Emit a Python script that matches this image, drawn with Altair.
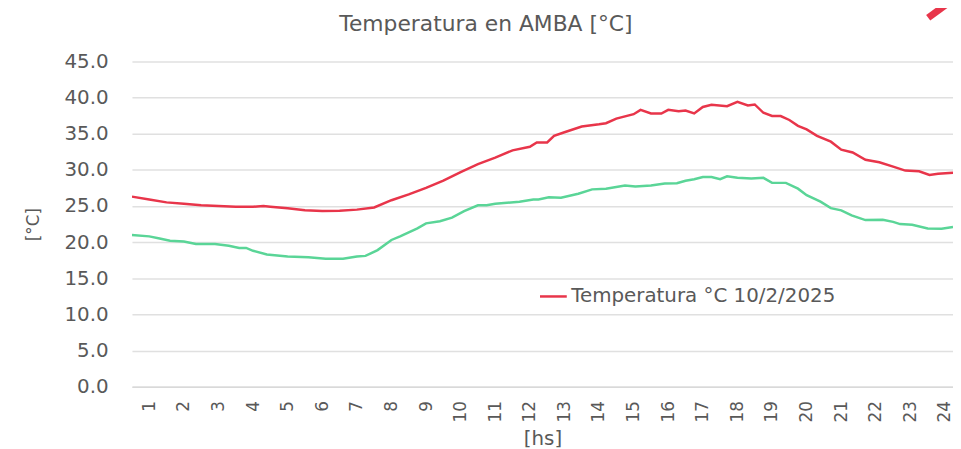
import altair as alt
import pandas as pd

title_text = "Temperatura en AMBA [°C]"
x_title = "[hs]"
y_title = "[°C]"
red_name = "Temperatura °C 10/2/2025"
green_name = "Temperatura °C 9/2/2025"
hour_ticks = list(range(1, 25))
y_ticks = [0, 5, 10, 15, 20, 25, 30, 35, 40, 45]

red_hours = [0.5, 1.0, 1.5, 2.0, 2.5, 3.0, 3.5, 4.0, 4.3, 4.5, 5.0, 5.5, 6.0, 6.5, 7.0, 7.5,
             8.0, 8.5, 9.0, 9.5, 10.0, 10.5, 11.0, 11.5, 12.0, 12.2, 12.5, 12.7, 13.0, 13.5,
             14.0, 14.2, 14.5, 15.0, 15.2, 15.5, 15.8, 16.0, 16.3, 16.5, 16.75, 17.0, 17.25,
             17.7, 18.0, 18.3, 18.5, 18.75, 19.0, 19.25, 19.5, 19.75, 20.0, 20.3, 20.7, 21.0,
             21.33, 21.7, 22.1, 22.5, 22.85, 23.25, 23.55, 23.8, 24.23]
red_temps = [26.3, 25.9, 25.5, 25.3, 25.1, 25.0, 24.9, 24.9, 25.0, 24.9, 24.7, 24.4, 24.3, 24.35,
             24.5, 24.8, 25.8, 26.6, 27.5, 28.5, 29.7, 30.8, 31.7, 32.7, 33.2, 33.8, 33.8, 34.7,
             35.2, 36.0, 36.3, 36.45, 37.1, 37.7, 38.3, 37.8, 37.8, 38.3, 38.1, 38.2, 37.8, 38.7,
             39.0, 38.8, 39.4, 38.9, 39.05, 37.9, 37.45, 37.45, 36.9, 36.1, 35.6, 34.7, 33.9,
             32.8, 32.4, 31.4, 31.05, 30.45, 29.9, 29.8, 29.3, 29.45, 29.6]

green_hours = [0.5, 1.0, 1.3, 1.6, 2.0, 2.35, 2.9, 3.3, 3.6, 3.8, 4.0, 4.4, 5.0, 5.6, 6.1, 6.6,
               7.0, 7.25, 7.6, 8.0, 8.25, 8.75, 9.0, 9.4, 9.75, 10.1, 10.5, 10.75, 11.0, 11.7,
               12.1, 12.25, 12.55, 12.9, 13.4, 13.8, 14.2, 14.75, 15.05, 15.5, 15.9, 16.25,
               16.5, 16.75, 17.0, 17.25, 17.5, 17.7, 18.0, 18.4, 18.75, 19.0, 19.4, 19.75, 20.0,
               20.4, 20.7, 21.0, 21.3, 21.7, 22.2, 22.5, 22.7, 23.05, 23.5, 23.9, 24.23]
green_temps = [21.0, 20.8, 20.5, 20.2, 20.1, 19.75, 19.75, 19.5, 19.2, 19.2, 18.8, 18.3, 18.0,
               17.9, 17.7, 17.7, 18.0, 18.1, 18.9, 20.3, 20.8, 21.9, 22.6, 22.9, 23.4, 24.3,
               25.1, 25.1, 25.3, 25.6, 25.9, 25.9, 26.2, 26.15, 26.7, 27.3, 27.4, 27.85, 27.7,
               27.85, 28.1, 28.15, 28.5, 28.7, 29.0, 29.0, 28.7, 29.1, 28.9, 28.8, 28.9, 28.2,
               28.2, 27.4, 26.5, 25.6, 24.7, 24.4, 23.7, 23.05, 23.1, 22.8, 22.5, 22.4, 21.9,
               21.85, 22.1]

df = pd.DataFrame({
    "hora": red_hours + green_hours,
    "temp": red_temps + green_temps,
    "serie": [red_name] * len(red_hours) + [green_name] * len(green_hours),
})

FONT = "DejaVu Sans"
GRAY = "#595959"
RED = "#E8354A"
GREEN = "#5AD597"
W, H = 828, 328

lines = alt.Chart(df).mark_line(strokeWidth=2.5, clip=True).encode(
    x=alt.X("hora:Q",
            scale=alt.Scale(domain=[0.5, 24.23], nice=False, zero=False),
            axis=alt.Axis(values=hour_ticks, labelAngle=270, grid=False, ticks=False,
                          domainColor="#d9d9d9", domainWidth=1.5,
                          labelFont=FONT, labelFontSize=17, labelColor=GRAY, labelPadding=14,
                          labelFlush=False, labelOverlap=False,
                          title=x_title, titleFont=FONT, titleFontSize=20, titleColor=GRAY,
                          titleFontWeight="normal", titleX=W / 2, titleY=52,
                          titleBaseline="middle", titleAlign="center")),
    y=alt.Y("temp:Q",
            scale=alt.Scale(domain=[0, 45], nice=False),
            axis=alt.Axis(values=y_ticks, format=".1f", domain=False, ticks=False,
                          gridColor="#e0e0e0", gridWidth=1.5,
                          labelFont=FONT, labelFontSize=20, labelColor=GRAY, labelPadding=24,
                          title=y_title, titleFont=FONT, titleFontSize=17, titleColor=GRAY,
                          titleFontWeight="normal", titleX=-99, titleY=H / 2, titleAngle=270,
                          titleBaseline="middle", titleAlign="center")),
    color=alt.Color("serie:N",
                    scale=alt.Scale(domain=[red_name, green_name], range=[RED, GREEN]),
                    legend=alt.Legend(values=[red_name], orient="none", legendX=410, legendY=222,
                                      title=None, symbolType="stroke", symbolSize=729,
                                      symbolStrokeWidth=2.5, labelFont=FONT, labelFontSize=20,
                                      labelColor=GRAY, labelOffset=3, padding=0, labelLimit=0)),
)

title_mark = alt.Chart(pd.DataFrame({"t": [title_text]})).mark_text(
    font=FONT, fontSize=22, color=GRAY, align="center", baseline="alphabetic"
).encode(text="t:N", x=alt.value(357), y=alt.value(-31))

deco = alt.Chart(pd.DataFrame({"d": [0]})).mark_rule(color=RED, strokeWidth=7, clip=False).encode(
    x=alt.value(803), y=alt.value(-44), x2=alt.value(841), y2=alt.value(-72)
)

chart = alt.layer(lines, title_mark, deco).properties(
    width=W, height=H,
    autosize=alt.AutoSizeParams(type="none"),
    padding={"left": 125, "top": 52, "right": 0, "bottom": 70},
).configure_view(stroke=None)

chart.save("out.html", embed_options={"renderer": "svg", "actions": False})
